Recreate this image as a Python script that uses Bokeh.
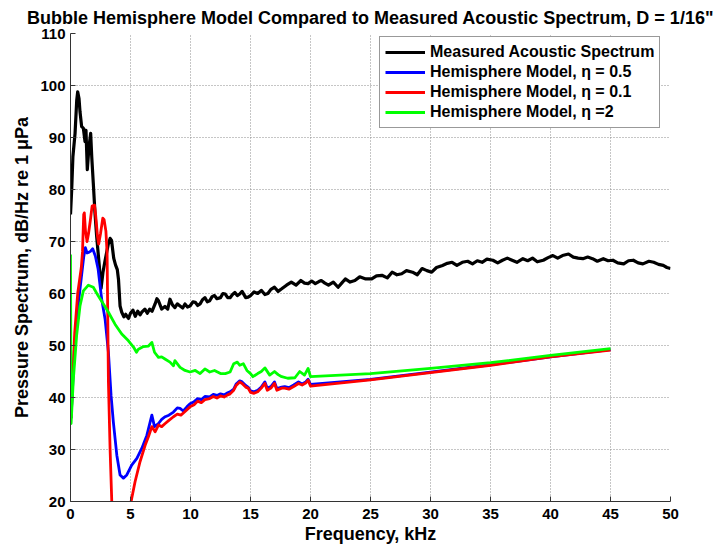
from bokeh.plotting import figure
from bokeh.models import Legend, LegendItem, Range1d, FixedTicker
from bokeh.embed import file_html
from bokeh.resources import INLINE

# ---------------- data ----------------
TITLE = 'Bubble Hemisphere Model Compared to Measured Acoustic Spectrum, D = 1/16"'
X_LABEL = "Frequency, kHz"
Y_LABEL = "Pressure Spectrum, dB/Hz re 1 \u03bcPa"
X_TICKS = [0, 5, 10, 15, 20, 25, 30, 35, 40, 45, 50]
Y_TICKS = [20, 30, 40, 50, 60, 70, 80, 90, 100, 110]
SERIES_NAMES = ["Measured Acoustic Spectrum",
                "Hemisphere Model, \u03b7 = 0.5",
                "Hemisphere Model, \u03b7 = 0.1",
                "Hemisphere Model, \u03b7 =2"]

measured_f = [0.00, 0.10, 0.20, 0.38, 0.52, 0.60, 0.71, 0.79, 0.93, 1.07, 1.21, 1.29, 1.40, 1.54,
              1.68, 1.77, 1.90, 2.04, 2.18, 2.40, 2.55, 2.70, 2.87, 3.14, 3.30, 3.42, 3.60, 3.75,
              3.90, 4.00, 4.13, 4.27, 4.45, 4.60, 4.83, 5.00, 5.20, 5.40, 5.60, 5.80, 5.94, 6.20,
              6.40, 6.60, 6.80, 7.05, 7.20, 7.33, 7.60, 7.87, 8.10, 8.29, 8.50, 8.70, 8.90, 9.13,
              9.35, 9.54, 9.75, 9.96, 10.2, 10.4, 10.6, 10.8, 11.0, 11.2, 11.4, 11.6, 11.8, 12.0,
              12.2, 12.5, 12.7, 12.9, 13.1, 13.3, 13.5, 13.7, 13.9, 14.1, 14.3, 14.6, 14.8, 15.0,
              15.3, 15.6, 15.9, 16.2, 16.45, 16.7, 17.0, 17.3, 17.6, 18.0, 18.4, 18.8, 19.2, 19.5,
              19.8, 20.1, 20.4, 20.7, 20.9, 21.2, 21.5, 21.9, 22.3, 22.6, 22.9, 23.3, 23.7, 24.1,
              24.6, 25.1, 25.5, 25.95, 26.4, 26.8, 27.2, 27.6, 28.0, 28.5, 28.9, 29.3, 29.7, 30.1,
              30.5, 31.0, 31.4, 31.8, 32.2, 32.65, 33.1, 33.5, 33.9, 34.3, 34.7, 35.2, 35.6, 36.0,
              36.4, 36.8, 37.2, 37.7, 38.1, 38.5, 38.9, 39.4, 39.8, 40.2, 40.6, 41.0, 41.5, 41.9,
              42.3, 42.7, 43.1, 43.5, 43.9, 44.4, 44.8, 45.2, 45.6, 46.1, 46.5, 46.9, 47.3, 47.7,
              48.2, 48.6, 49.0, 49.4, 49.7, 50.0]
measured_db = [75.2, 80.0, 86.3, 90.8, 97.2, 98.8, 97.5, 95.0, 92.1, 91.8, 89.2, 91.4, 83.8, 88.2,
               90.8, 86.3, 81.2, 75.5, 71.0, 65.3, 61.0, 64.0, 66.2, 69.4, 70.6, 70.2, 66.8, 65.5,
               64.6, 62.7, 57.6, 56.4, 55.5, 56.0, 55.2, 56.2, 56.8, 55.6, 56.6, 55.9, 56.4, 57.0,
               56.2, 57.0, 56.6, 58.0, 59.0, 58.6, 57.0, 57.5, 57.0, 58.9, 57.8, 57.3, 58.0, 57.6,
               57.2, 58.0, 57.4, 57.6, 58.4, 58.3, 57.7, 58.0, 58.8, 59.2, 58.4, 58.6, 59.4, 59.6,
               59.0, 59.2, 60.0, 59.9, 59.2, 59.2, 59.8, 60.2, 59.6, 59.9, 60.4, 59.2, 59.3, 59.6,
               60.3, 60.0, 60.6, 59.8, 60.0, 60.8, 61.2, 60.4, 60.9, 61.6, 62.2, 61.6, 62.5, 62.0,
               61.9, 62.4, 61.9, 62.3, 62.5, 62.0, 61.6, 62.2, 61.2, 62.0, 62.8, 62.2, 62.5, 63.2,
               62.8, 62.8, 63.4, 63.5, 63.0, 64.1, 63.6, 63.8, 64.4, 64.1, 63.6, 64.8, 64.4, 64.1,
               65.0, 65.4, 65.8, 66.0, 65.4, 66.0, 66.2, 65.7, 66.3, 66.0, 66.6, 66.4, 65.9, 66.4,
               66.8, 66.4, 66.0, 66.7, 66.3, 66.8, 66.1, 66.4, 66.9, 67.3, 66.8, 67.3, 67.6, 67.0,
               66.8, 66.7, 67.0, 66.7, 66.2, 66.7, 66.3, 66.4, 65.9, 65.7, 66.3, 66.4, 65.9, 65.7,
               66.2, 66.0, 65.6, 65.4, 65.0, 64.8]

eta05_f = [0.05, 0.35, 0.60, 0.90, 1.10, 1.24, 1.38, 1.50, 1.66, 1.85, 2.07, 2.30, 2.60, 2.88,
           3.16, 3.38, 3.57, 3.86, 4.13, 4.41, 4.69, 5.10, 5.53, 5.94, 6.36, 6.64, 6.78, 7.00,
           7.33, 7.60, 7.89, 8.20, 8.58, 8.90, 9.13, 9.40, 9.70, 9.96, 10.3, 10.6, 10.9, 11.2,
           11.6, 11.9, 12.2, 12.5, 12.8, 13.1, 13.3, 13.6, 13.8, 14.1, 14.3, 14.6, 14.8, 15.0,
           15.3, 15.6, 15.9, 16.2, 16.4, 16.7, 17.0, 17.2, 17.6, 17.85, 18.2, 18.6, 19.0, 19.3,
           19.6, 19.8, 20.0, 25.0, 30.0, 35.0, 40.0, 45.0]
eta05_db = [36.0, 50.5, 57.0, 63.0, 67.0, 68.8, 67.8, 67.9, 68.1, 68.6, 67.2, 64.7, 58.9, 55.1,
            48.7, 40.4, 35.3, 28.9, 25.1, 24.5, 25.1, 27.0, 28.3, 30.2, 32.7, 35.3, 36.6, 34.4,
            35.0, 35.8, 36.3, 36.6, 37.2, 38.0, 37.9, 37.4, 38.2, 38.8, 39.2, 39.8, 39.6, 40.2,
            40.1, 40.6, 40.4, 40.7, 40.5, 40.9, 41.1, 41.6, 42.6, 43.2, 43.0, 42.3, 42.0, 41.3,
            41.1, 41.4, 42.0, 43.0, 41.8, 42.1, 43.0, 41.7, 42.0, 42.1, 41.9, 42.4, 43.0, 42.6,
            43.0, 43.5, 42.5, 43.5, 44.9, 46.3, 47.8, 49.2]

eta01_f = [0.05, 0.35, 0.60, 0.90, 1.00, 1.10, 1.15, 1.25, 1.38, 1.50, 1.65, 1.80, 2.00, 2.10,
           2.25, 2.35, 2.50, 2.69, 2.80, 2.95, 3.05, 3.16, 3.30, 3.44, 3.60, 4.50, 4.90, 5.05,
           5.38, 5.80, 6.22, 6.50, 6.78, 7.05, 7.33, 7.60, 7.89, 8.20, 8.58, 8.90, 9.20, 9.50,
           9.96, 10.3, 10.6, 10.9, 11.2, 11.6, 11.9, 12.2, 12.5, 12.8, 13.1, 13.3, 13.6, 13.8,
           14.1, 14.3, 14.6, 14.8, 15.0, 15.3, 15.6, 15.9, 16.2, 16.4, 16.7, 17.0, 17.2, 17.6,
           17.85, 18.2, 18.6, 19.0, 19.3, 19.6, 19.8, 20.0, 25.0, 30.0, 35.0, 40.0, 45.0]
eta01_db = [36.0, 52.5, 60.0, 65.0, 68.0, 75.2, 75.5, 72.0, 70.0, 71.5, 74.0, 76.8, 77.0, 75.0,
            71.0, 69.5, 71.5, 74.5, 74.2, 72.0, 67.8, 43.0, 30.0, 20.0, 8.0, 8.0, 17.0, 20.0,
            23.8, 27.7, 30.8, 32.5, 34.4, 33.4, 34.7, 34.4, 35.0, 35.6, 36.3, 36.8, 36.6, 37.2,
            38.2, 38.6, 39.3, 39.0, 39.6, 39.8, 40.2, 39.9, 40.3, 40.1, 40.5, 40.7, 41.4, 42.3,
            43.0, 42.7, 42.0, 41.8, 41.0, 40.8, 41.1, 41.8, 42.7, 41.4, 41.8, 42.7, 41.4, 41.8,
            41.8, 41.6, 42.1, 42.7, 42.4, 42.8, 43.3, 42.2, 43.4, 44.8, 46.2, 47.8, 49.1]

eta2_f = [0.00, 0.05, 0.24, 0.51, 0.79, 1.07, 1.49, 1.90, 2.32, 2.74, 3.16, 3.71, 4.27, 4.83,
          5.25, 5.50, 5.66, 6.08, 6.50, 6.78, 7.00, 7.33, 7.60, 7.87, 8.29, 8.58, 8.70, 9.13,
          9.54, 9.96, 10.4, 10.8, 11.2, 11.6, 12.0, 12.5, 12.9, 13.3, 13.6, 13.9, 14.1, 14.4,
          14.7, 15.0, 15.2, 15.6, 15.9, 16.2, 16.6, 17.0, 17.3, 17.6, 18.1, 18.7, 19.1, 19.5,
          19.8, 20.0, 25.0, 30.0, 35.0, 40.0, 45.0]
eta2_db = [67.5, 35.0, 43.6, 51.9, 57.6, 60.5, 61.6, 61.2, 59.5, 58.0, 56.4, 54.1, 52.2, 50.9,
           49.7, 48.7, 49.3, 49.8, 49.9, 50.6, 48.7, 47.7, 47.8, 47.4, 46.8, 46.1, 47.1, 45.8,
           45.2, 44.9, 45.2, 44.6, 45.5, 44.9, 45.2, 44.6, 44.6, 44.9, 46.5, 46.8, 46.2, 46.5,
           45.2, 44.6, 44.0, 44.6, 45.0, 45.7, 44.3, 45.0, 44.4, 44.0, 43.7, 43.8, 45.0, 44.3,
           45.6, 44.0, 44.6, 45.6, 46.7, 48.1, 49.4]

COLORS = ["#000000", "#0000ff", "#ff0000", "#00ff00"]

# ---------------- figure ----------------
FONT = "Liberation Sans"

p = figure(width=716, height=546, output_backend="svg", toolbar_location=None,
           x_range=Range1d(X_TICKS[0], X_TICKS[-1]), y_range=Range1d(Y_TICKS[0], Y_TICKS[-1]),
           min_border_left=70, min_border_right=46, min_border_top=33, min_border_bottom=43,
           title=TITLE)
p.background_fill_color = "white"
p.border_fill_color = "white"
p.outline_line_color = None

p.title.align = "center"
p.title.text_font = FONT
p.title.text_font_size = "18px"
p.title.text_font_style = "bold"
p.title.text_color = "black"
p.title.standoff = 11
p.title.offset = 0

for ax, ticks, label in ((p.xaxis[0], X_TICKS, X_LABEL), (p.yaxis[0], Y_TICKS, Y_LABEL)):
    ax.ticker = FixedTicker(ticks=ticks)
    ax.axis_label = label
    ax.axis_label_text_font = FONT
    ax.axis_label_text_font_size = "18px"
    ax.axis_label_text_font_style = "bold"
    ax.axis_label_text_color = "black"
    ax.major_label_text_font = FONT
    ax.major_label_text_font_size = "15px"
    ax.major_label_text_font_style = "bold"
    ax.major_label_text_color = "black"
    ax.axis_line_color = "#333333"
    ax.major_tick_line_color = "#333333"
    ax.major_tick_in = 5
    ax.major_tick_out = 0
    ax.minor_tick_line_color = None

p.xaxis.major_label_standoff = 7
p.xaxis.axis_label_standoff = 2
p.yaxis.major_label_standoff = 5
p.yaxis.axis_label_standoff = 5

for g, ticks in ((p.xgrid[0], X_TICKS), (p.ygrid[0], Y_TICKS)):
    g.ticker = FixedTicker(ticks=ticks)
    g.grid_line_color = "#8c8c8c"
    g.grid_line_dash = "1 2"
    g.grid_line_width = 1

renderers = []
for fx, fy, col, lw in ((measured_f, measured_db, COLORS[0], 3.2), (eta05_f, eta05_db, COLORS[1], 2.8),
                        (eta01_f, eta01_db, COLORS[2], 2.8), (eta2_f, eta2_db, COLORS[3], 2.8)):
    renderers.append(p.line(fx, fy, line_color=col, line_width=lw, line_join="round"))

legend = Legend(items=[LegendItem(label=n, renderers=[r]) for n, r in zip(SERIES_NAMES, renderers)],
                location=(309, 373))
legend.label_text_font = FONT
legend.label_text_font_size = "16px"
legend.label_text_font_style = "bold"
legend.label_text_color = "black"
legend.label_height = 20
legend.glyph_height = 20
legend.glyph_width = 40
legend.label_standoff = 5
legend.spacing = 0
legend.padding = 5
legend.margin = 0
legend.border_line_color = "#333333"
legend.border_line_width = 1
legend.background_fill_color = "white"
legend.background_fill_alpha = 1.0
p.add_layout(legend)

open("out.html", "w").write(file_html(p, INLINE))
